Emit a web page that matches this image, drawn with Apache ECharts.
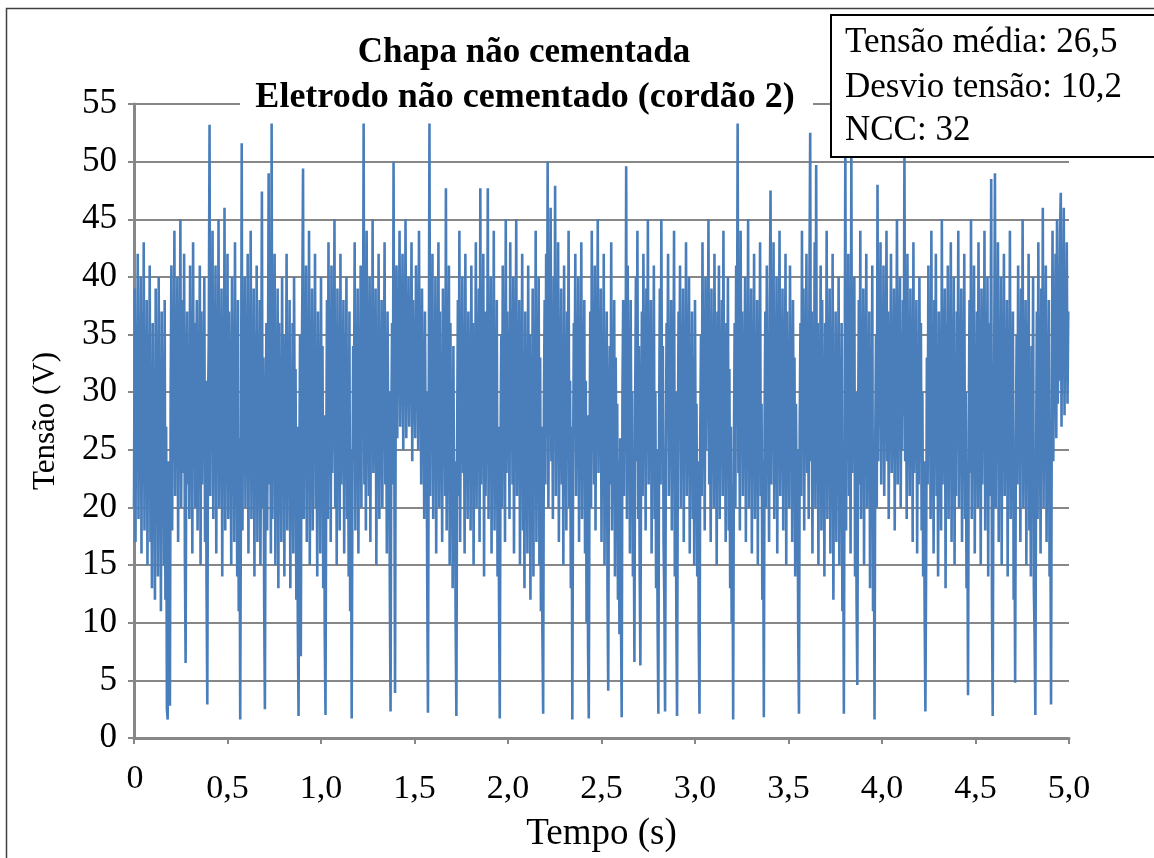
<!DOCTYPE html>
<html>
<head>
<meta charset="utf-8">
<script src="https://cdn.jsdelivr.net/npm/echarts@6/dist/echarts.min.js"></script>
<style>
  html, body { margin: 0; padding: 0; background: #fff; }
  #chart { width: 1154px; height: 858px; }
</style>
</head>
<body>
<div id="chart"></div>
<script>
// Arc voltage record, 5 s sampled every 4 ms (one list per second)
const sampleStep = 0.004;
const voltsSec1 = [
  20, 39, 17, 36, 24, 42, 19, 33, 26, 40, 16, 37, 22, 43, 18, 31, 25, 38, 15, 35, 21, 41, 17, 29, 13, 36, 20, 32, 12, 39, 23, 34, 14, 40, 19, 30, 11, 37, 22, 33, 15, 38, 12, 27, 2.5, 1.6, 24, 11, 2.8, 30,
  41, 18, 36, 24, 44, 21, 33, 27, 40, 17, 35, 25, 45, 20, 31, 38, 23, 42, 16, 6.5, 28, 37, 22, 34, 19, 41, 26, 32, 16, 43, 24, 36, 20, 30, 38, 18, 34, 25, 41, 15, 37, 22, 33, 27, 40, 17, 31, 13, 2.9, 29,
  35, 53.2, 21, 38, 26, 44, 19, 34, 28, 41, 16, 36, 23, 45, 20, 32, 26, 39, 14, 35, 22, 46, 18, 30, 25, 42, 19, 37, 28, 33, 15, 40, 21, 36, 17, 43, 24, 31, 14, 38, 11, 26, 1.6, 22, 51.6, 18, 35, 24, 40, 20,
  33, 27, 42, 16, 37, 23, 44, 19, 31, 26, 39, 14, 35, 21, 41, 17, 30, 24, 38, 15, 28, 47.4, 20, 33, 12, 2.5, 25, 36, 18, 30, 49, 22, 37, 16, 53.3, 19, 34, 26, 42, 15, 32, 24, 39, 13, 36, 21, 29, 17, 40, 23,
  35, 14, 31, 25, 42, 18, 34, 22, 38, 13, 29, 20, 36, 16, 40, 24, 32, 12, 27, 10, 1.9, 23, 35, 7.1, 30, 38, 49.4, 19, 33, 26, 41, 17, 35, 22, 44, 15, 31, 27, 39, 18, 36, 24, 42, 20, 30, 14, 37, 25, 33, 16
];
const voltsSec2 = [
  40, 21, 34, 13, 28, 9, 2.0, 24, 38, 19, 43, 26, 35, 17, 41, 23, 31, 28, 45, 20, 36, 15, 39, 25, 33, 18, 42, 22, 30, 26, 38, 16, 35, 24, 40, 19, 32, 14, 37, 11, 25, 1.7, 21, 34, 27, 43, 18, 36, 23, 39,
  16, 33, 26, 41, 20, 37, 29, 53.3, 22, 35, 18, 44, 27, 32, 21, 40, 17, 36, 25, 45, 23, 31, 28, 39, 15, 34, 24, 42, 19, 30, 26, 38, 20, 35, 29, 43, 22, 33, 16, 37, 24, 30, 13, 2.3, 27, 36, 22, 50, 25, 3.9,
  33, 41, 26, 38, 30, 44, 27, 35, 32, 42, 25, 37, 29, 45, 26, 34, 31, 40, 27, 36, 30, 43, 24, 38, 29, 33, 26, 41, 31, 36, 25, 44, 28, 35, 22, 39, 27, 32, 19, 37, 24, 30, 14, 2.2, 28, 53.3, 21, 36, 26, 42,
  19, 34, 24, 40, 16, 33, 27, 43, 20, 37, 23, 31, 17, 39, 25, 35, 21, 47.7, 18, 32, 26, 41, 15, 36, 22, 29, 13, 34, 19, 24, 10, 1.9, 26, 38, 21, 44, 17, 33, 28, 40, 23, 35, 16, 42, 25, 31, 19, 37, 27, 34,
  18, 41, 24, 36, 15, 32, 26, 43, 20, 35, 28, 39, 17, 47.7, 22, 34, 25, 42, 14, 37, 21, 30, 27, 47.7, 19, 36, 23, 40, 16, 33, 26, 44, 18, 31, 24, 38, 14, 27, 12, 1.7, 25, 35, 20, 41, 28, 34, 17, 45, 23, 37
];
const voltsSec3 = [
  26, 32, 19, 43, 25, 36, 22, 40, 16, 34, 27, 45, 21, 30, 24, 38, 15, 35, 28, 42, 18, 33, 13, 37, 23, 29, 16, 41, 20, 35, 12, 31, 25, 39, 14, 36, 22, 44, 17, 30, 26, 40, 15, 33, 11, 27, 9, 2.1, 29, 38,
  22, 42, 26, 50, 20, 37, 29, 46, 24, 34, 19, 40, 27, 47.9, 21, 36, 25, 43, 17, 32, 28, 39, 22, 35, 15, 41, 24, 30, 18, 37, 26, 44, 20, 31, 13, 27, 1.6, 23, 36, 29, 42, 21, 34, 26, 40, 17, 33, 24, 43, 19,
  35, 27, 38, 16, 31, 10, 28, 8, 1.7, 24, 37, 20, 44, 26, 33, 22, 41, 18, 36, 28, 45, 23, 32, 25, 39, 17, 35, 21, 42, 15, 30, 26, 37, 13, 4.1, 27, 34, 22, 43, 18, 31, 25, 38, 14, 33, 20, 29, 12, 24, 9,
  26, 11, 1.8, 30, 38, 21, 35, 25, 49.6, 19, 41, 27, 33, 16, 38, 23, 30, 14, 22, 6.6, 29, 40, 24, 44, 19, 34, 15, 6.3, 26, 37, 21, 42, 28, 35, 18, 39, 25, 45, 22, 31, 27, 38, 16, 34, 24, 41, 19, 30, 13, 25,
  10, 2.1, 27, 39, 22, 45, 26, 34, 17, 12, 2.3, 24, 36, 29, 42, 21, 33, 25, 38, 18, 35, 27, 44, 14, 30, 11, 1.9, 23, 37, 28, 41, 20, 34, 26, 39, 17, 36, 24, 43, 21, 31, 27, 40, 16, 34, 25, 37, 19, 33, 15
];
const voltsSec4 = [
  38, 22, 29, 14, 24, 9, 2.1, 26, 35, 21, 43, 27, 33, 18, 40, 25, 36, 29, 45, 22, 32, 17, 39, 26, 34, 20, 42, 28, 31, 15, 37, 24, 41, 19, 33, 27, 38, 21, 44, 25, 30, 17, 36, 23, 40, 18, 32, 13, 27, 10,
  22, 1.6, 25, 36, 20, 41, 28, 53.3, 23, 34, 18, 44, 26, 37, 21, 31, 28, 40, 17, 35, 24, 45, 20, 33, 27, 39, 16, 36, 25, 42, 19, 30, 23, 38, 15, 34, 26, 43, 21, 29, 12, 24, 1.8, 27, 37, 20, 41, 25, 33, 17,
  38, 47.5, 22, 35, 27, 43, 19, 32, 25, 40, 16, 36, 28, 44, 21, 30, 24, 39, 18, 34, 26, 42, 15, 37, 23, 31, 20, 41, 27, 35, 17, 38, 24, 33, 14, 29, 19, 25, 9, 2.1, 27, 36, 21, 44, 26, 39, 18, 33, 28, 42,
  23, 35, 19, 40, 52.5, 24, 37, 16, 31, 27, 43, 20, 49.7, 22, 36, 15, 34, 26, 41, 18, 38, 25, 30, 14, 36, 23, 44, 19, 32, 27, 39, 16, 35, 24, 42, 12, 29, 21, 37, 17, 33, 26, 40, 15, 31, 22, 36, 11, 20, 2.1,
  28, 52, 18, 37, 24, 42, 21, 33, 16, 51, 23, 35, 27, 40, 14, 30, 12, 4.6, 26, 38, 22, 44, 19, 34, 25, 39, 15, 36, 28, 42, 20, 31, 24, 37, 13, 33, 21, 41, 11, 23, 1.6, 26, 35, 20, 48, 24, 39, 27, 43, 22
];
const voltsSec5 = [
  36, 26, 41, 21, 33, 29, 44, 24, 37, 19, 35, 28, 42, 23, 31, 26, 39, 18, 34, 27, 45, 22, 36, 30, 40, 20, 33, 25, 38, 28, 51.3, 24, 37, 19, 42, 26, 31, 21, 39, 28, 35, 17, 43, 23, 32, 27, 38, 16, 34, 22,
  40, 25, 36, 18, 30, 14, 24, 11, 2.3, 15, 33, 22, 41, 27, 35, 19, 44, 24, 31, 16, 38, 26, 42, 21, 34, 14, 37, 25, 30, 18, 45, 22, 33, 27, 39, 13, 36, 23, 41, 19, 32, 26, 43, 17, 35, 24, 40, 15, 31, 21,
  37, 27, 44, 20, 34, 25, 39, 17, 32, 26, 42, 19, 30, 13, 22, 3.7, 27, 38, 23, 45, 19, 35, 28, 41, 16, 33, 24, 37, 20, 43, 26, 31, 15, 39, 22, 35, 27, 44, 18, 32, 24, 40, 14, 36, 21, 29, 48.5, 12, 1.9, 25,
  33, 49, 20, 38, 26, 43, 17, 34, 24, 40, 15, 36, 28, 42, 21, 31, 25, 38, 14, 35, 22, 44, 19, 30, 27, 37, 12, 20, 4.8, 26, 35, 22, 41, 28, 33, 17, 39, 24, 45, 20, 32, 26, 38, 15, 36, 23, 42, 18, 30, 14,
  34, 21, 40, 13, 9, 2.0, 24, 37, 19, 43, 26, 32, 16, 39, 23, 46, 20, 35, 28, 41, 17, 33, 25, 38, 14, 22, 2.9, 29, 44, 24, 36, 30, 42, 26, 45, 29, 38, 31, 44, 47.3, 27, 41, 33, 46, 28, 39, 31, 43, 29, 37
];
const xTicks = ['0', '0,5', '1,0', '1,5', '2,0', '2,5', '3,0', '3,5', '4,0', '4,5', '5,0'];
const titleLines = ['Chapa não cementada', 'Eletrodo não cementado (cordão 2)'];
const statLines = ['Tensão média: 26,5', 'Desvio tensão: 10,2', 'NCC: 32'];

const serif = "'Liberation Serif', 'Times New Roman', serif";
const gridGray = '#878787';

const volts = [].concat(voltsSec1, voltsSec2, voltsSec3, voltsSec4, voltsSec5);
const seriesData = volts.map((v, i) => [i * sampleStep, v]);

const chart = echarts.init(document.getElementById('chart'), null, { renderer: 'canvas' });
chart.setOption({
  animation: false,
  backgroundColor: '#fff',
  grid: { left: 134, right: 85, top: 104, bottom: 119, containLabel: false },
  xAxis: {
    type: 'value', min: 0, max: 5, interval: 0.5,
    name: 'Tempo (s)', nameLocation: 'middle', nameGap: 78,
    nameTextStyle: { fontFamily: serif, fontSize: 37, color: '#000' },
    axisLine: { lineStyle: { color: gridGray, width: 3 } },
    axisTick: { show: true, length: 6, lineStyle: { color: gridGray, width: 2 } },
    splitLine: { show: false },
    axisLabel: {
      margin: 34, fontFamily: serif, fontSize: 34, color: '#000',
      formatter: v => (v === 0 ? '' : xTicks[Math.round(v / 0.5)])
    }
  },
  yAxis: {
    type: 'value', min: 0, max: 55, interval: 5,
    name: 'Tensão (V)', nameLocation: 'middle', nameGap: 73, nameRotate: 90,
    nameTextStyle: { fontFamily: serif, fontSize: 31, color: '#000' },
    axisLine: { show: true, lineStyle: { color: gridGray, width: 3 } },
    axisTick: { show: true, length: 6, lineStyle: { color: gridGray, width: 2 } },
    splitLine: { show: true, lineStyle: { color: gridGray, width: 2 } },
    axisLabel: { margin: 17, fontFamily: serif, fontSize: 35, color: '#000' }
  },
  series: [{
    type: 'line',
    data: seriesData,
    showSymbol: false,
    sampling: null,
    lineStyle: { color: '#4a7ebb', width: 2.6 },
    z: 2
  }],
  graphic: [
    // outer chart frame
    { type: 'polyline', silent: true, z: 50,
      shape: { points: [[6.5, 858], [6.5, 8.5], [1154, 8.5]] },
      style: { stroke: '#404040', lineWidth: 1.5, fill: null } },
    // title block with white backing over the top gridline
    { type: 'rect', silent: true, z: 55,
      shape: { x: 240, y: 84, width: 573, height: 32 },
      style: { fill: '#fff' } },
    { type: 'text', silent: true, z: 56, x: 524, y: 53,
      style: { text: titleLines[0], fontFamily: serif, fontWeight: 'bold', fontSize: 35,
               fill: '#000', align: 'center', verticalAlign: 'middle' } },
    { type: 'text', silent: true, z: 56, x: 525, y: 98,
      style: { text: titleLines[1], fontFamily: serif, fontWeight: 'bold', fontSize: 36,
               fill: '#000', align: 'center', verticalAlign: 'middle' } },
    // first x tick label sits a little higher than the others
    { type: 'text', silent: true, z: 56, x: 135, y: 779,
      style: { text: xTicks[0], fontFamily: serif, fontSize: 34,
               fill: '#000', align: 'center', verticalAlign: 'middle' } },
    // statistics box
    { type: 'rect', silent: true, z: 60,
      shape: { x: 831, y: 15, width: 340, height: 142 },
      style: { fill: '#fff', stroke: '#000', lineWidth: 2 } },
    { type: 'text', silent: true, z: 61, x: 845, y: 43,
      style: { text: statLines[0], fontFamily: serif, fontSize: 35, fill: '#000', verticalAlign: 'middle' } },
    { type: 'text', silent: true, z: 61, x: 845, y: 88,
      style: { text: statLines[1], fontFamily: serif, fontSize: 35, fill: '#000', verticalAlign: 'middle' } },
    { type: 'text', silent: true, z: 61, x: 845, y: 131,
      style: { text: statLines[2], fontFamily: serif, fontSize: 35, fill: '#000', verticalAlign: 'middle' } }
  ]
});
</script>
</body>
</html>
